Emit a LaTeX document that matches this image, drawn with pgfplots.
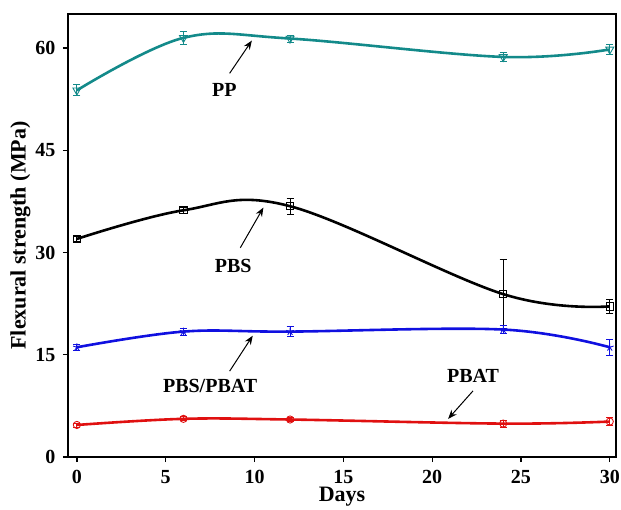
\documentclass[border=0pt]{standalone}
\usepackage{fontspec}
\setmainfont{Liberation Serif}
\usepackage{pgfplots}
\pgfplotsset{compat=1.18}
\usetikzlibrary{calc,arrows.meta}
\definecolor{cpp}{HTML}{138A8A}
\definecolor{cblend}{HTML}{1010E0}
\definecolor{cpbat}{HTML}{E01010}

\begin{document}
\begin{tikzpicture}
\begin{axis}[
  scale only axis,
  width=548pt, height=443pt,
  xmin=-0.5, xmax=30.35,
  ymin=0, ymax=65,
  xtick={0,5,...,30},
  ytick={0,15,30,45,60},
  axis line style={line width=1.5pt},
  tick style={line width=1.3pt, black},
  tick align=outside,
  major tick length=5pt,
  xtick pos=bottom, ytick pos=left,
  ticklabel style={font=\fontsize{20}{20}\selectfont\bfseries},
  yticklabel style={xshift=-4pt},
  xticklabel style={inner sep=1pt, yshift=-7.3pt},
  /pgf/number format/assume math mode=true,
  xlabel={Days},
  ylabel={Flexural strength (MPa)},
  label style={font=\fontsize{22}{22}\selectfont\bfseries},
  xlabel style={inner sep=0pt, yshift=-2pt},
  ylabel style={yshift=-2pt},
  every axis plot/.append style={line width=2.6pt, smooth, tension=0.6},
  error bars/y dir=both, error bars/y explicit,
  error bars/error bar style={line width=0.8pt},
  error bars/error mark options={rotate=90, mark size=3.5pt, line width=0.8pt},
]
% PP
\addplot[cpp, mark=triangle, mark options={rotate=180, fill=white, line width=0.9pt, mark size=4.6pt}]
  coordinates {(0,53.8) +- (0,0.8) (6,61.5) +- (0,1.0) (12,61.4) +- (0,0.5) (24,58.7) +- (0,0.6) (30,59.8) +- (0,0.7)};
% PBS
\addplot[black, mark=square, mark options={fill=white, line width=0.9pt, mark size=3.6pt}]
  coordinates {(0,32.0) +- (0,0.4) (6,36.2) +- (0,0.4) (12,36.8) +- (0,1.2) (24,23.9) +- (0,5.1) (30,22.1) +- (0,1.0)};
% PBS/PBAT
\addplot[cblend, mark=star, mark options={fill=white, line width=0.9pt, mark size=4pt}]
  coordinates {(0,16.1) +- (0,0.4) (6,18.4) +- (0,0.5) (12,18.4) +- (0,0.7) (24,18.7) +- (0,0.6) (30,16.1) +- (0,1.2)};
% PBAT
\addplot[cpbat, mark=o, mark options={fill=white, line width=0.9pt, mark size=3.6pt}]
  coordinates {(0,4.7) +- (0,0.3) (6,5.6) +- (0,0.3) (12,5.5) +- (0,0.3) (24,4.9) +- (0,0.5) (30,5.2) +- (0,0.6)};

\begin{scope}[font=\fontsize{20}{20}\selectfont\bfseries]
\draw[-{Stealth[length=9pt,width=7pt]}, line width=1pt] (axis cs:8.6,56.3) -- (axis cs:9.85,61.1);
\node at (axis cs:8.3,53.8) {PP};
\draw[-{Stealth[length=9pt,width=7pt]}, line width=1pt] (axis cs:9.2,30.7) -- (axis cs:10.5,36.6);
\node at (axis cs:8.8,28.1) {PBS};
\draw[-{Stealth[length=9pt,width=7pt]}, line width=1pt] (axis cs:8.6,12.6) -- (axis cs:9.9,17.8);
\node at (axis cs:7.5,10.4) {PBS/PBAT};
\draw[-{Stealth[length=9pt,width=7pt]}, line width=1pt] (axis cs:22.3,9.7) -- (axis cs:20.9,5.6);
\node at (axis cs:22.3,11.9) {PBAT};
\end{scope}
\end{axis}
\pgfresetboundingbox
\path[use as bounding box] ($(current axis.south west)+(-68pt,-52pt)$) rectangle ($(current axis.north east)+(5pt,14pt)$);
\end{tikzpicture}
\end{document}
